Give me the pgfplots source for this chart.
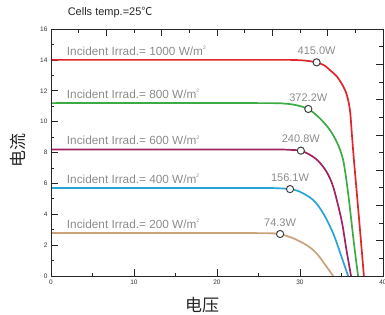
\documentclass[border=0pt]{standalone}
\usepackage{pgfplots}
\pgfplotsset{compat=1.18}
\usepackage{fontspec}
\setmainfont{Liberation Sans}
\newfontfamily\cjk{Noto Sans CJK SC}
\definecolor{cred}{HTML}{E0262A}
\definecolor{cgreen}{HTML}{3DAA44}
\definecolor{cpurple}{HTML}{A0245F}
\definecolor{cblue}{HTML}{2AA3D8}
\definecolor{cbrown}{HTML}{C9A27A}
\definecolor{lbl}{HTML}{8C8C8C}
\newcommand{\sq}{\raisebox{0.5em}{\fontsize{5}{5}\selectfont 2}}
\pgfplotstableread{
x y label
32.0 13.84 415.0W
31.0 10.82 372.2W
30.1 8.12 240.8W
28.8 5.63 156.1W
27.6 2.72 74.3W
}\pmax
\begin{document}
\begin{tikzpicture}
\useasboundingbox (-51pt,-38pt) rectangle (334pt,276pt);
\begin{axis}[
  at={(0,0)}, anchor=south west,
  scale only axis, width=332pt, height=247pt,
  xmin=0, xmax=40, ymin=0, ymax=16,
  xtick={0,10,20,30,40}, minor xtick={5,15,25,35},
  ytick={0,2,...,16}, minor ytick={1,3,...,15},
  xtick pos=bottom, ytick pos=left,
  tick align=inside,
  major tick length=7pt, minor tick length=3.5pt,
  every tick/.style={black!85, line width=0.7pt},
  axis line style={black!85, line width=0.8pt},
  ticklabel style={font=\fontsize{6.5}{7}\selectfont, text=black!80},
  /pgf/number format/assume math mode=true,
  xlabel={\cjk 电压}, ylabel={\cjk 电流},
  label style={font=\fontsize{17}{17}\selectfont, text=black!85},
  xlabel style={at={(axis description cs:0.455,-0.117)}, anchor=center},
  ylabel style={at={(axis description cs:-0.098,0.51)}, anchor=center},
  title={Cells temp.=25{\cjk ℃}},
  title style={at={(axis description cs:0.05,1)}, anchor=base west, yshift=7.3pt, inner sep=0pt, font=\fontsize{11}{12}\selectfont, text=black!85},
  clip=false,
]
\addplot[cbrown, line width=1.7pt, smooth] coordinates {(0,2.78)(24,2.78)(26.5,2.76)(27.6,2.72)(29.2,2.44)(30.8,2.0)(32.0,1.47)(33.2,0.6)(34.0,0)};
\addplot[cblue, line width=1.7pt, smooth] coordinates {(0,5.7)(24,5.7)(27,5.69)(28.8,5.63)(30.0,5.46)(31.6,4.92)(32.8,4.06)(34.0,2.76)(35.0,1.25)(35.8,0)};
\addplot[cpurple, line width=1.7pt, smooth] coordinates {(0,8.2)(25,8.2)(28,8.19)(29.2,8.16)(30.1,8.12)(31.2,7.85)(32.2,7.45)(33.2,6.75)(34.0,5.78)(35.0,3.63)(35.6,1.68)(36.15,0)};
\addplot[cgreen, line width=1.7pt, smooth] coordinates {(0,11.2)(25,11.2)(28,11.17)(29.5,11.07)(31.0,10.82)(32.4,10.21)(33.6,9.46)(34.5,8.6)(35.2,7.51)(35.8,5.36)(36.5,2.12)(37.0,0)};
\addplot[cred, line width=1.7pt, smooth] coordinates {(0,14.0)(26,14.0)(29.5,13.99)(31,13.93)(32.0,13.84)(33.0,13.62)(33.6,13.34)(34.4,12.95)(35.0,12.48)(35.5,11.95)(35.8,11.4)(36.05,10.6)(36.25,9.2)(36.5,7.5)(37.1,3.8)(37.7,0)};
\addplot[only marks, mark=*, mark size=3.6pt, mark options={fill=white, draw=black!75, line width=1pt},
  nodes near coords, point meta=explicit symbolic,
  nodes near coords style={font=\fontsize{11}{12}\selectfont, text=lbl, anchor=base, inner sep=0pt, yshift=7.7pt}]
  table[x=x, y=y, meta=label] {\pmax};
\begin{scope}[every node/.style={anchor=base west, inner sep=0pt, font=\fontsize{11.8}{12}\selectfont, text=lbl, yshift=4.5pt}]
\node at (axis cs:1.9,14.0) {Incident Irrad.= 1000 W/m\sq};
\node at (axis cs:1.9,11.2) {Incident Irrad.= 800 W/m\sq};
\node at (axis cs:1.9,8.2) {Incident Irrad.= 600 W/m\sq};
\node at (axis cs:1.9,5.7) {Incident Irrad.= 400 W/m\sq};
\node at (axis cs:1.9,2.78) {Incident Irrad.= 200 W/m\sq};
\end{scope}
\end{axis}
\begin{axis}[
  at={(0,0)}, anchor=south west,
  scale only axis, width=332pt, height=247pt,
  xmin=0, xmax=40, ymin=0, ymax=16,
  xtick={6.6667,13.3333,20,26.6667,33.3333},
  minor xtick={3.3333,10,16.6667,23.3333,30,36.6667},
  ytick={2.2857,4.5714,6.8571,9.1429,11.4286,13.7143},
  minor ytick={1.1429,3.4286,5.7143,8,10.2857,12.5714,14.8571},
  xticklabels={}, yticklabels={},
  xtick pos=top, ytick pos=right,
  tick align=inside,
  major tick length=6.5pt, minor tick length=3.5pt,
  every tick/.style={black!85, line width=0.7pt},
  axis line style={black!85, line width=0.8pt},
]
\end{axis}
\end{tikzpicture}
\end{document}
